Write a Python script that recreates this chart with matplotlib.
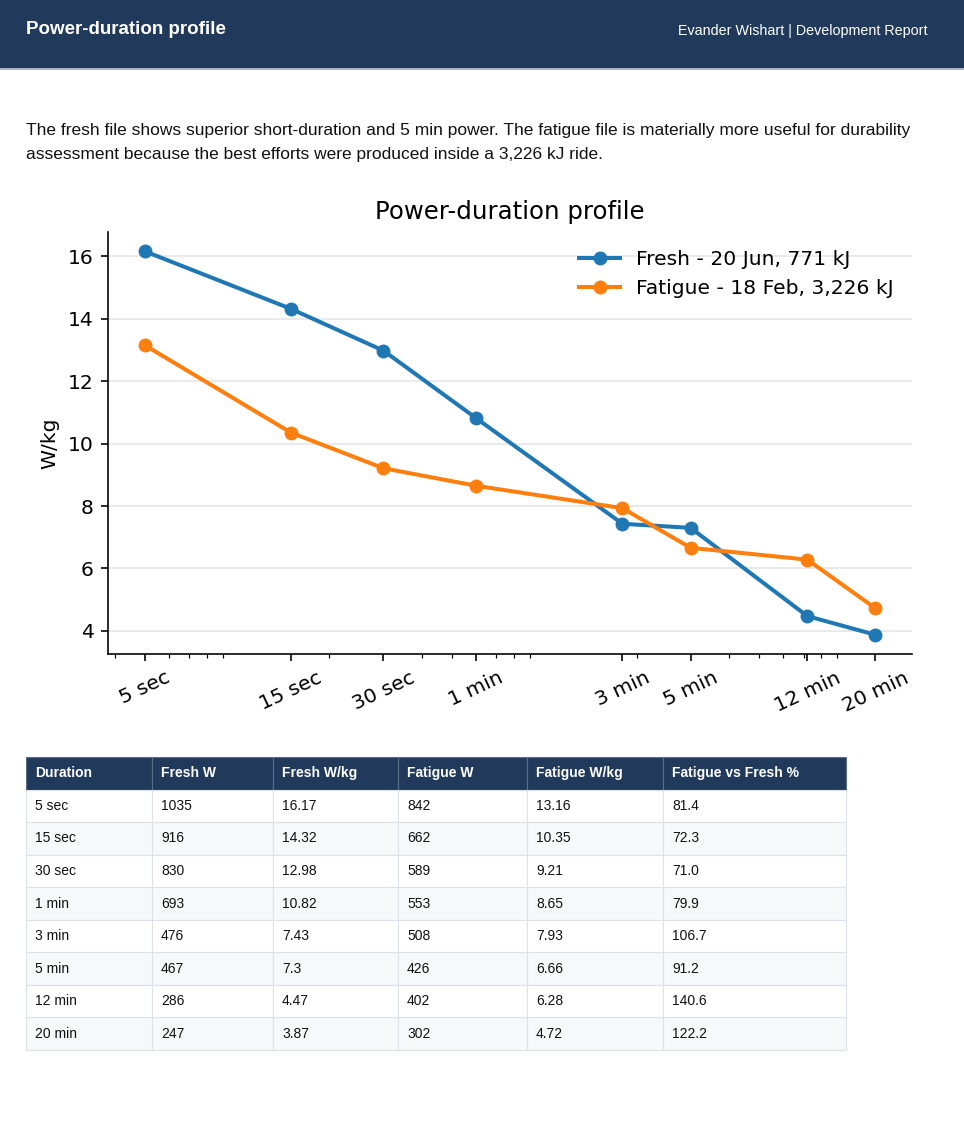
import numpy as np
import matplotlib
matplotlib.use('Agg')
import matplotlib.pyplot as plt
from matplotlib.patches import Rectangle

# === data ===
durations_s = [5, 15, 30, 60, 180, 300, 720, 1200]
duration_labels = ['5 sec', '15 sec', '30 sec', '1 min', '3 min', '5 min', '12 min', '20 min']
fresh_w = [1035, 916, 830, 693, 476, 467, 286, 247]
fresh_wkg = [16.17, 14.32, 12.98, 10.82, 7.43, 7.3, 4.47, 3.87]
fatigue_w = [842, 662, 589, 553, 508, 426, 402, 302]
fatigue_wkg = [13.16, 10.35, 9.21, 8.65, 7.93, 6.66, 6.28, 4.72]
fatigue_vs_fresh = [81.4, 72.3, 71.0, 79.9, 106.7, 91.2, 140.6, 122.2]

fresh_label = 'Fresh - 20 Jun, 771 kJ'
fatigue_label = 'Fatigue - 18 Feb, 3,226 kJ'
table_cols = ['Duration', 'Fresh W', 'Fresh W/kg', 'Fatigue W', 'Fatigue W/kg', 'Fatigue vs Fresh %']

# === page ===
W, H = 964, 1132
NAVY = '#213a5b'
SANS = 'Liberation Sans'

fig = plt.figure(figsize=(W / 100, H / 100), dpi=100)


def fx(px):
    return px / W


def fy(py):
    return 1 - py / H


# header bar
fig.add_artist(Rectangle((0, fy(68)), 1, 68 / H, transform=fig.transFigure,
                         facecolor=NAVY, edgecolor='none', zorder=0))
fig.add_artist(Rectangle((0, fy(70)), 1, 2 / H, transform=fig.transFigure,
                         facecolor='#a9b4c2', edgecolor='none', zorder=0))
fig.text(fx(26), fy(30), 'Power-duration profile', color='white', fontsize=13.5,
         fontweight='bold', family=SANS, va='center', ha='left')
fig.text(fx(927), fy(31), 'Evander Wishart | Development Report', color='white',
         fontsize=10.3, family=SANS, va='center', ha='right')

# paragraph
fig.text(fx(26), fy(131), 'The fresh file shows superior short-duration and 5 min power. '
         'The fatigue file is materially more useful for durability',
         fontsize=12.55, family=SANS, va='center', ha='left', color='#111111')
fig.text(fx(26), fy(154), 'assessment because the best efforts were produced inside a 3,226 kJ ride.',
         fontsize=12.55, family=SANS, va='center', ha='left', color='#111111')

# === chart ===
k = 1.46
ax = fig.add_axes([fx(108), fy(654), fx(912 - 108), (654 - 232) / H])
ax.plot(durations_s, fresh_wkg, marker='o', lw=2.9, ms=9, color='#1f77b4', label=fresh_label)
ax.plot(durations_s, fatigue_wkg, marker='o', lw=2.9, ms=9, color='#ff7f0e', label=fatigue_label)
ax.set_xscale('log')
ax.set_xticks(durations_s)
ax.set_xticklabels(duration_labels, rotation=25, ha='center')
ax.set_title('Power-duration profile', fontsize=12 * k, pad=9)
ax.set_ylabel('W/kg', fontsize=10 * k, labelpad=6)
ax.tick_params(axis='both', which='major', labelsize=10 * k, length=3.5 * k,
               width=0.8 * k, pad=3.5 * k)
ax.tick_params(axis='both', which='minor', length=2 * k, width=0.6 * k)
ax.grid(axis='y', color='#e6e6e6', lw=1.2)
ax.set_axisbelow(True)
for s in ['top', 'right']:
    ax.spines[s].set_visible(False)
for s in ['left', 'bottom']:
    ax.spines[s].set_linewidth(0.8 * k)
ax.legend(loc='upper right', frameon=False, fontsize=10 * k)

# === table ===
rows = []
for i in range(len(duration_labels)):
    rows.append([duration_labels[i], str(fresh_w[i]), str(fresh_wkg[i]), str(fatigue_w[i]),
                 str(fatigue_wkg[i]), '%.1f' % fatigue_vs_fresh[i]])

col_edges = [26, 152, 273, 398, 527, 663, 846]
col_w = np.diff(col_edges)
tx0, ty0, ty1 = 26, 757, 1050
axt = fig.add_axes([fx(tx0), fy(ty1), fx(col_edges[-1] - tx0), (ty1 - ty0) / H])
axt.axis('off')
tbl = axt.table(cellText=rows, colLabels=table_cols, cellLoc='left', colLoc='left',
                colWidths=list(col_w / col_w.sum()), bbox=[0, 0, 1, 1])
tbl.auto_set_font_size(False)
tbl.set_fontsize(10)
for (r, c), cell in tbl.get_celld().items():
    cell.set_edgecolor('#dde2e8')
    cell.set_linewidth(0.8)
    cell.PAD = 9 / col_w[c]
    cell.get_text().set_family(SANS)
    if r == 0:
        cell.set_facecolor(NAVY)
        cell.set_edgecolor('#5a6e88')
        cell.get_text().set_color('white')
        cell.get_text().set_fontweight('bold')
    else:
        cell.set_facecolor('#f7f8fa' if r % 2 == 0 else 'white')
        cell.get_text().set_color('#111111')

fig.savefig('out.png', dpi=100)
